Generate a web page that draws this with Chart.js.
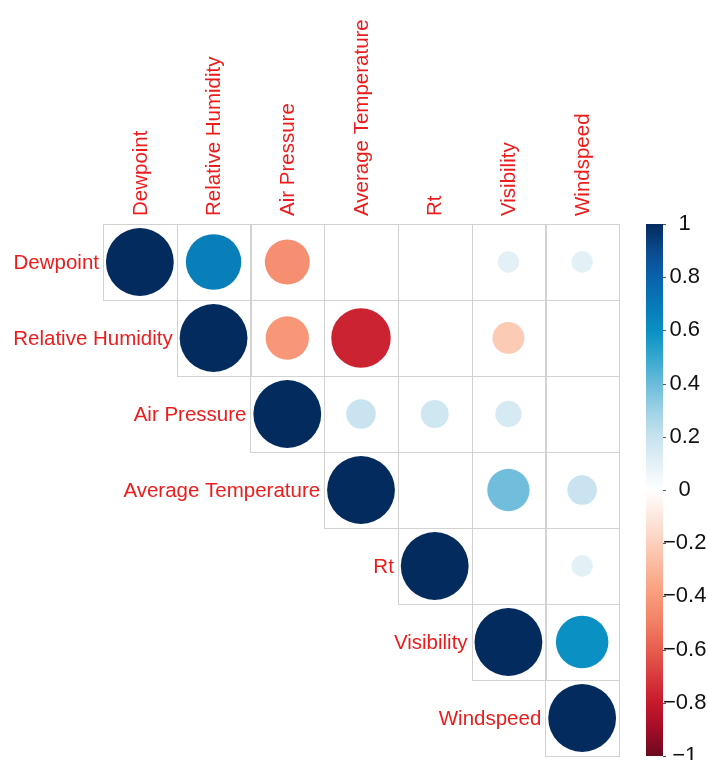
<!DOCTYPE html>
<html>
<head>
<meta charset="utf-8">
<title>Correlation matrix</title>
<script src="https://cdn.jsdelivr.net/npm/chart.js@4/dist/chart.umd.min.js"></script>
<style>
  html, body { margin: 0; padding: 0; background: #ffffff; }
  #wrap { width: 708px; height: 760px; position: relative; }
</style>
</head>
<body>
<div id="wrap"><canvas id="corr"></canvas></div>
<script>
// Variables, in matrix order
const variables = ['Dewpoint', 'Relative Humidity', 'Air Pressure', 'Average Temperature', 'Rt', 'Visibility', 'Windspeed'];

// Upper triangle of the correlation matrix, each row starting at its diagonal
const rowDewpoint    = [1, 0.67, -0.44, 0, 0, 0.10, 0.10];
const rowRelHumidity = [1, -0.41, -0.77, 0, -0.22, 0];
const rowAirPressure = [1, 0.19, 0.17, 0.15, 0];
const rowAvgTemp     = [1, 0, 0.39, 0.19];
const rowRt          = [1, 0, 0.10];
const rowVisibility  = [1, 0.60];
const rowWindspeed   = [1];

// Colour legend ticks
const legendTickValues = [1, 0.8, 0.6, 0.4, 0.2, 0, -0.2, -0.4, -0.6, -0.8, -1];
const legendTickLabels = ['1', '0.8', '0.6', '0.4', '0.2', '0', '\u22120.2', '\u22120.4', '\u22120.6', '\u22120.8', '\u22121'];

const upperRows = [rowDewpoint, rowRelHumidity, rowAirPressure, rowAvgTemp, rowRt, rowVisibility, rowWindspeed];

// Diverging red-blue palette, from -1 to 1 in steps of 0.1
const palette = [
  '#6a0a1e', '#a30c27', '#c6192c', '#d83a3d', '#e65e4f', '#f27f63', '#f99a7a', '#fbb59a', '#fcd0bd', '#fde8de',
  '#ffffff',
  '#e3f0f6', '#c6e3ef', '#9dd1e6', '#6bbcdb', '#34a7cf', '#0a90c2', '#0878b6', '#0a62ac', '#0b4a8c', '#032b5e'
];

function hexToRgb(h) {
  return [parseInt(h.slice(1, 3), 16), parseInt(h.slice(3, 5), 16), parseInt(h.slice(5, 7), 16)];
}
function colorFor(v) {
  const t = (Math.max(-1, Math.min(1, v)) + 1) / 2 * (palette.length - 1);
  const i = Math.min(Math.floor(t), palette.length - 2);
  const f = t - i;
  const a = hexToRgb(palette[i]), b = hexToRgb(palette[i + 1]);
  const c = a.map((x, k) => Math.round(x + (b[k] - x) * f));
  return 'rgb(' + c.join(',') + ')';
}

// Points: x = column index, y = row index (1-based)
const points = [];
upperRows.forEach((row, r) => {
  row.forEach((v, k) => {
    points.push({ x: r + 1 + k, y: r + 1, v: v });
  });
});

const LABEL_FONT = '20.5px "Liberation Sans", Arial, Helvetica, sans-serif';
const LABEL_COLOR = '#ec1c1c';

function cellSize(chart) {
  const x = chart.scales.x, y = chart.scales.y;
  return {
    w: Math.abs(x.getPixelForValue(2) - x.getPixelForValue(1)),
    h: Math.abs(y.getPixelForValue(2) - y.getPixelForValue(1))
  };
}

const matrixPlugin = {
  id: 'matrixDecor',
  beforeDatasetsDraw(chart) {
    const ctx = chart.ctx;
    const xs = chart.scales.x, ys = chart.scales.y;
    const n = variables.length;
    ctx.save();
    // cell borders of the upper triangle
    ctx.strokeStyle = '#d2d2d2';
    ctx.lineWidth = 1;
    for (let r = 1; r <= n; r++) {
      for (let c = r; c <= n; c++) {
        const x0 = xs.getPixelForValue(c - 0.5), x1 = xs.getPixelForValue(c + 0.5);
        const y0 = ys.getPixelForValue(r - 0.5), y1 = ys.getPixelForValue(r + 0.5);
        ctx.strokeRect(Math.round(x0) + 0.5, Math.round(y0) + 0.5, Math.round(x1 - x0), Math.round(y1 - y0));
      }
    }
    // row labels, right-aligned before the diagonal cell
    ctx.font = LABEL_FONT;
    ctx.fillStyle = LABEL_COLOR;
    ctx.textAlign = 'right';
    ctx.textBaseline = 'middle';
    for (let r = 1; r <= n; r++) {
      ctx.fillText(variables[r - 1], xs.getPixelForValue(r - 0.5) - 4, ys.getPixelForValue(r) + 1);
    }
    // column labels, rotated, above the grid
    const top = ys.getPixelForValue(0.5);
    for (let c = 1; c <= n; c++) {
      ctx.save();
      ctx.translate(xs.getPixelForValue(c) + 1, top - 8);
      ctx.rotate(-Math.PI / 2);
      ctx.textAlign = 'left';
      ctx.textBaseline = 'middle';
      ctx.fillText(variables[c - 1], 0, 0);
      ctx.restore();
    }
    // colour legend bar
    const cb = chart.scales.cb;
    const bx0 = cb.left + 27, bx1 = cb.left + 44;
    const byTop = cb.getPixelForValue(1), byBot = cb.getPixelForValue(-1);
    const grad = ctx.createLinearGradient(0, byBot, 0, byTop);
    palette.forEach((col, i) => grad.addColorStop(i / (palette.length - 1), col));
    ctx.fillStyle = grad;
    ctx.fillRect(bx0, byTop, bx1 - bx0, byBot - byTop);
    ctx.strokeStyle = '#555555';
    ctx.lineWidth = 1;
    legendTickValues.forEach(v => {
      const y = Math.round(cb.getPixelForValue(v)) + 0.5;
      ctx.beginPath();
      ctx.moveTo(bx1, y);
      ctx.lineTo(bx1 + 3, y);
      ctx.stroke();
    });
    ctx.restore();
  }
};

new Chart(document.getElementById('corr'), {
  type: 'scatter',
  data: {
    datasets: [{
      data: points,
      pointStyle: 'circle',
      borderWidth: 0,
      backgroundColor: c => colorFor(c.raw ? c.raw.v : 0),
      pointRadius: c => {
        if (!c.raw) return 0;
        const s = cellSize(c.chart);
        return 0.46 * Math.min(s.w, s.h) * Math.sqrt(Math.abs(c.raw.v));
      },
      pointHoverRadius: c => {
        if (!c.raw) return 0;
        const s = cellSize(c.chart);
        return 0.46 * Math.min(s.w, s.h) * Math.sqrt(Math.abs(c.raw.v));
      }
    }]
  },
  options: {
    responsive: true,
    maintainAspectRatio: false,
    animation: false,
    events: [],
    layout: { padding: { left: 103, top: 224, right: 0, bottom: 4 } },
    plugins: { legend: { display: false }, tooltip: { enabled: false } },
    scales: {
      x: { type: 'linear', min: 0.5, max: 7.5, display: false },
      y: { type: 'linear', min: 0.5, max: 7.5, reverse: true, display: false },
      cb: {
        type: 'linear',
        position: 'right',
        min: -1,
        max: 1,
        border: { display: false },
        grid: { drawOnChartArea: false, tickLength: 44, color: 'rgba(0,0,0,0)', tickColor: 'rgba(0,0,0,0)' },
        afterBuildTicks: s => { s.ticks = legendTickValues.map(v => ({ value: v })); },
        afterFit: s => { s.width = 89; s.paddingTop = 0; s.paddingBottom = 0; },
        ticks: {
          autoSkip: false,
          crossAlign: 'center',
          padding: 0,
          color: '#111111',
          font: { family: '"Liberation Sans", Arial, Helvetica, sans-serif', size: 22 },
          callback: (value) => {
            const i = legendTickValues.findIndex(t => Math.abs(t - value) < 1e-9);
            return i >= 0 ? legendTickLabels[i] : '';
          }
        }
      }
    }
  },
  plugins: [matrixPlugin]
});
</script>
</body>
</html>
